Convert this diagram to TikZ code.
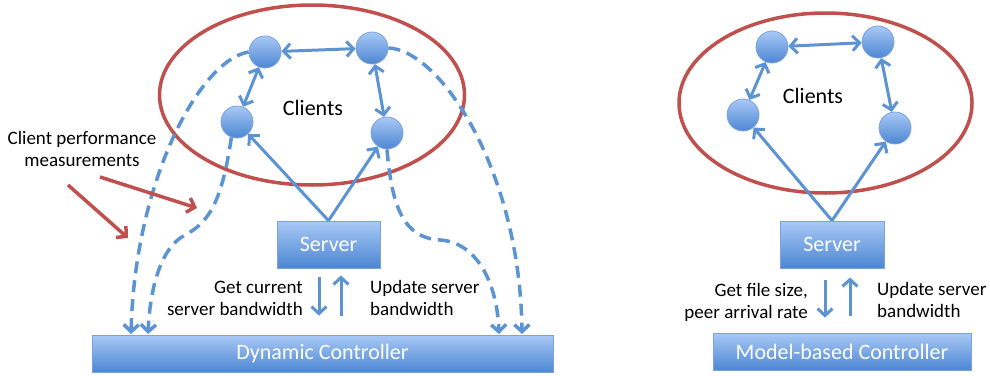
\documentclass[tikz,border=0pt]{standalone}
\usepackage{fontspec}
\setmainfont{Carlito}
\usetikzlibrary{arrows.meta,shapes.geometric}
\definecolor{lblue}{HTML}{5B93D3}
\definecolor{rred}{HTML}{C0504D}
\definecolor{btop}{HTML}{A9C9F6}
\definecolor{bbot}{HTML}{4C86D2}
\definecolor{bedge}{HTML}{7AA3DC}
\begin{document}
\begin{tikzpicture}[x=1pt,y=-1pt,
  big/.style={font=\fontsize{22}{26}\selectfont},
  small/.style={font=\fontsize{19}{22}\selectfont},
  peer/.style={circle, minimum size=32pt, inner sep=0pt, top color=btop, bottom color=bbot, draw=bedge, line width=0.8pt},
  box/.style={rectangle, inner sep=0pt, top color=btop, bottom color=bbot, draw=bedge, line width=0.8pt, text=white, font=\fontsize{22}{26}\selectfont},
  crowd/.style={ellipse, draw=rred, line width=3.5pt, inner sep=0pt},
  link/.style={draw=lblue, line width=3pt, -{Straight Barb[length=7pt,width=15pt]}},
  both/.style={link, {Straight Barb[length=7pt,width=15pt]}-{Straight Barb[length=7pt,width=15pt]}},
  report/.style={link, line width=3.5pt, dash pattern=on 12pt off 7pt},
  pointer/.style={draw=rred, line width=3.5pt, -{Straight Barb[length=7pt,width=15pt]}}
]
\useasboundingbox (0,0) rectangle (990,375);

% ---------- left diagram ----------
\node[crowd, minimum width=305pt, minimum height=180pt] (E1) at (312,95) {};
\node[big] (C1) at (313,108) {Clients};
\node[box, minimum width=103pt, minimum height=47pt] (S1) at (328.5,244.5) {Server};
\node[box, minimum width=461pt, minimum height=37pt] (K1) at (322.5,353.5) {Dynamic Controller};

\coordinate (t1) at (131,334);
\coordinate (t2) at (148,334);
\coordinate (t3) at (499,334);
\coordinate (t4) at (522,334);

\node[peer] (a1) at (265,52) {};
\node[peer] (b1) at (372,48) {};
\node[peer] (c1) at (237,122) {};
\node[peer] (d1) at (387,133) {};

\draw[report] (a1.west) .. controls (200,60) and (135,180) .. (t1);
\draw[report] (c1.250) .. controls (222,200) and (210,222) .. (185,235) .. controls (160,248) and (150,290) .. (t2);
\draw[report] (d1.south) .. controls (392,210) and (405,238) .. (440,240) .. controls (475,242) and (497,280) .. (t3);
\draw[report] (b1.east) .. controls (440,50) and (520,170) .. (t4);

\draw[both] (a1) -- (b1);
\draw[both] (a1) -- (c1);
\draw[both] (b1) -- (d1);
\draw[link] (S1.north) -- (c1);
\draw[link] (S1.north) -- (d1);

\coordinate (s1d) at ([xshift=-9.5pt]S1.south);
\coordinate (s1u) at ([xshift=12.5pt]S1.south);
\draw[link, shorten <=9pt, shorten >=19pt] (s1d) -- (s1d |- K1.north);
\draw[link, shorten <=19pt, shorten >=7pt] (s1u |- K1.north) -- (s1u);

\node[small, align=right, anchor=east, inner sep=0pt] (g1) at (303,298) {Get current\\server bandwidth};
\node[small, align=left, anchor=west, inner sep=0pt] (u1) at (370,298) {Update server\\bandwidth};

\node[small, align=center] (cp) at (82,149) {Client performance\\measurements};
\coordinate (r1s) at (100,177);
\coordinate (r1e) at (197,208);
\coordinate (r2s) at (68,185);
\coordinate (r2e) at (128,238);
\draw[pointer] (r1s) -- (r1e);
\draw[pointer] (r2s) -- (r2e);

% ---------- right diagram ----------
\node[crowd, minimum width=293pt, minimum height=180pt] (E2) at (825.5,103) {};
\node[big] (C2) at (813,96) {Clients};
\node[box, minimum width=104pt, minimum height=47pt] (S2) at (832,244.5) {Server};
\node[box, minimum width=258pt, minimum height=37pt] (K2) at (842,351.5) {Model-based Controller};

\node[peer] (a2) at (772,47) {};
\node[peer] (b2) at (878,42) {};
\node[peer] (c2) at (743,115) {};
\node[peer] (d2) at (895,128) {};

\draw[both] (a2) -- (b2);
\draw[both] (a2) -- (c2);
\draw[both] (b2) -- (d2);
\draw[link] (S2.north) -- (c2);
\draw[link] (S2.north) -- (d2);

\coordinate (s2d) at ([xshift=-7pt]S2.south);
\coordinate (s2u) at ([xshift=18pt]S2.south);
\draw[link, shorten <=12pt, shorten >=15pt] (s2d) -- (s2d |- K2.north);
\draw[link, shorten <=17pt, shorten >=9pt] (s2u |- K2.north) -- (s2u);

\node[small, align=right, anchor=east, inner sep=0pt] (g2) at (808,302) {Get file size,\\peer arrival rate};
\node[small, align=left, anchor=west, inner sep=0pt] (u2) at (877,300) {Update server\\bandwidth};
\end{tikzpicture}
\end{document}
